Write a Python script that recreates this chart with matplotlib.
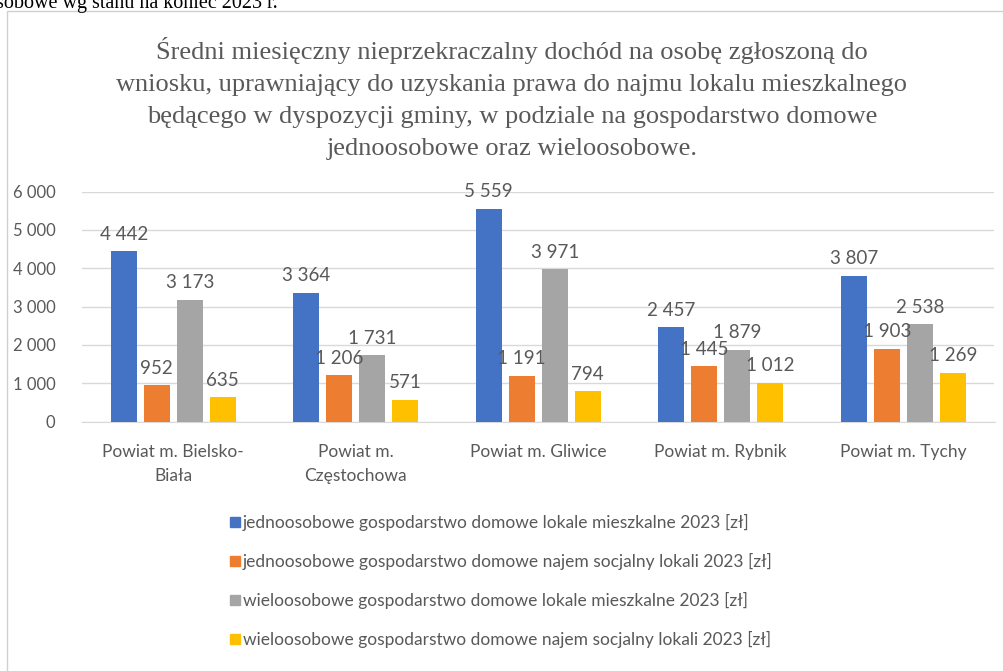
import matplotlib
matplotlib.use("Agg")
import matplotlib.pyplot as plt
import matplotlib.patches as mpatches
import numpy as np

categories = ["Powiat m. Bielsko-\nBiała", "Powiat m.\nCzęstochowa", "Powiat m. Gliwice",
              "Powiat m. Rybnik", "Powiat m. Tychy"]
series_names = [
    "jednoosobowe gospodarstwo domowe lokale mieszkalne 2023 [zł]",
    "jednoosobowe gospodarstwo domowe najem socjalny lokali 2023 [zł]",
    "wieloosobowe gospodarstwo domowe lokale mieszkalne 2023 [zł]",
    "wieloosobowe gospodarstwo domowe najem socjalny lokali 2023 [zł]",
]
jedno_lokale = [4442, 3364, 5559, 2457, 3807]
jedno_socjalny = [952, 1206, 1191, 1445, 1903]
wielo_lokale = [3173, 1731, 3971, 1879, 2538]
wielo_socjalny = [635, 571, 794, 1012, 1269]
yticks = [0, 1000, 2000, 3000, 4000, 5000, 6000]
colors = ["#4472C4", "#ED7D31", "#A5A5A5", "#FFC000"]
title = ("Średni miesięczny nieprzekraczalny dochód na osobę zgłoszoną do\n"
         "wniosku, uprawniający do uzyskania prawa do najmu lokalu mieszkalnego\n"
         "będącego w dyspozycji gminy, w podziale na gospodarstwo domowe\n"
         "jednoosobowe oraz wieloosobowe.")

def fmt(v):
    return f"{v:,}".replace(",", " ")

txt = "#595959"
W, H = 1004, 671
fig = plt.figure(figsize=(W / 100, H / 100), dpi=100)
fig.patch.set_facecolor("white")

# frame
fig.patches.append(mpatches.Rectangle((7 / W, -0.1), 1.2, 1 - 11 / H + 0.1,
                                      transform=fig.transFigure, fill=False,
                                      edgecolor="#D0D0D0", linewidth=1.0))
# cut-off text above frame
fig.text(-4 / W, 1 - 8 / H, "sobowe wg stanu na koniec 2023 r.",
         family="Liberation Serif", fontsize=14.5, color="black", va="baseline", ha="left")

fig.text(512 / W, 1 - 98.5 / H, title, family="Liberation Serif", fontsize=19,
         color=txt, ha="center", va="center", linespacing=1.59)

ax = fig.add_axes([82 / W, 1 - 421.5 / H, 912.5 / W, (421.5 - 191.7) / H])
series = [jedno_lokale, jedno_socjalny, wielo_lokale, wielo_socjalny]
x = np.arange(len(categories))
bw = 0.1425
step = 0.181
for i, (vals, c) in enumerate(zip(series, colors)):
    xs = x + (i - 1.5) * step
    bars = ax.bar(xs, vals, width=bw, color=c, zorder=3, label=series_names[i])
    for xi, v in zip(xs, vals):
        ax.annotate(fmt(v), (xi, v), xytext=(0, 17), textcoords="offset pixels",
                    ha="center", va="center", fontsize=13.5, color=txt,
                    family="Lato", zorder=4)

ax.set_xlim(-0.5, len(categories) - 0.5)
ax.set_ylim(0, 6000)
ax.set_yticks(yticks)
ax.set_yticklabels([fmt(v) for v in yticks], family="Lato", fontsize=12, color=txt)
ax.set_xticks(x)
ax.set_xticklabels(categories, family="Lato", fontsize=12.5, color=txt, linespacing=1.6)
ax.tick_params(axis="both", length=0)
ax.tick_params(axis="y", pad=19)
ax.tick_params(axis="x", pad=16)
ax.grid(axis="y", color="#D9D9D9", linewidth=1.0, zorder=0)
for s in ["top", "right", "left"]:
    ax.spines[s].set_visible(False)
ax.spines["bottom"].set_color("#D9D9D9")
ax.set_facecolor("white")

handles = [mpatches.Patch(color=c) for c in colors]
leg = fig.legend(handles, series_names, loc="upper left",
                 bbox_to_anchor=(230 / W, 1 - 514 / H), frameon=False,
                 prop={"family": "Lato", "size": 12.5}, labelspacing=1.27,
                 handlelength=0.55, handleheight=0.55, handletextpad=0.2,
                 borderaxespad=0, borderpad=0)
for t in leg.get_texts():
    t.set_color(txt)

fig.savefig("out.png", dpi=100)
